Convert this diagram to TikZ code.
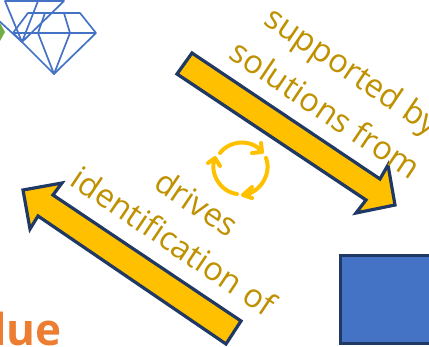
\documentclass[tikz,border=0pt]{standalone}
\usepackage{fontspec}
\setmainfont{Open Sans}
\definecolor{gold}{HTML}{FFC000}
\definecolor{darkgold}{HTML}{BF9000}
\definecolor{navy}{HTML}{1F3864}
\definecolor{steel}{HTML}{4472C4}
\definecolor{valuecol}{HTML}{ED7D31}
\definecolor{leaf}{HTML}{70AD47}
\begin{document}
\begin{tikzpicture}[
    x = 1pt, y = -1pt,
    blockarrow/.style = {draw = navy, fill = gold, line width = 3.2pt, line join = miter},
    caption/.style = {text = darkgold, font = \fontsize{32.5}{34}\selectfont, inner sep = 0pt},
    gem/.style = {draw = steel, line width = 1.7pt, line join = round},
    loopline/.style = {draw = gold, line width = 4pt, line cap = round, line join = round}
    ]

    \useasboundingbox (0, 0) rectangle (429, 347);
    \clip (0, 0) rectangle (429, 347);

    % gems
    \draw [gem] (-3, 19) -- (22, 42) -- (64, 1) -- (5, 1) -- (22, 42) -- (38, 1);
    \draw [gem] (13, 33) -- (28, 13) -- (80, 13) -- (96, 33) -- (54, 74) -- cycle;
    \draw [gem] (13, 33) -- (96, 33);
    \draw [gem] (45, 13) -- (38, 33) -- (54, 74) -- (70, 33) -- (64, 13);
    \fill [leaf] (-8, 32) -- (0, 23) -- (5, 32) -- (0, 41) -- cycle;

    % block arrows
    \draw [blockarrow] (192, 53) -- (380, 179) -- (388, 165) -- (395, 205)
      -- (356, 213) -- (366, 200) -- (177, 74) -- cycle;
    \draw [blockarrow] (241, 321) -- (53, 195) -- (62, 183) -- (23, 190)
      -- (30, 229) -- (38, 216) -- (226, 344) -- cycle;
    \draw [draw = navy, fill = steel, line width = 3pt] (340.5, 255.5) rectangle (440, 343.7);

    % loop
    \draw [loopline] (220, 153) to [out = 53, in = 126] (262, 152)
      (261, 143) -- (262, 152) -- (252, 153);
    \draw [loopline] (266, 158) to [out = -69, in = 6] (243, 195)
      (252, 187) -- (243, 195) -- (252, 198);
    \draw [loopline] (237, 194) to [out = 173, in = 248] (215, 158)
      (208, 163) -- (215, 158) -- (220, 166);

    % labels
    \node at (351, 73) [caption, rotate = -34, name = supported] {supported by};
    \node at (326, 109) [caption, rotate = -34, name = solutions] {solutions from};
    \node at (197, 203) [caption, rotate = -34, name = drives] {drives};
    \node at (174, 241) [caption, rotate = -34, name = identification] {identification of};
    \node at (-7, 346) [anchor = base west, inner sep = 0pt, text = valuecol,
      font = \fontsize{44}{46}\selectfont\bfseries, name = value] {lue};

  \end{tikzpicture}
\end{document}
